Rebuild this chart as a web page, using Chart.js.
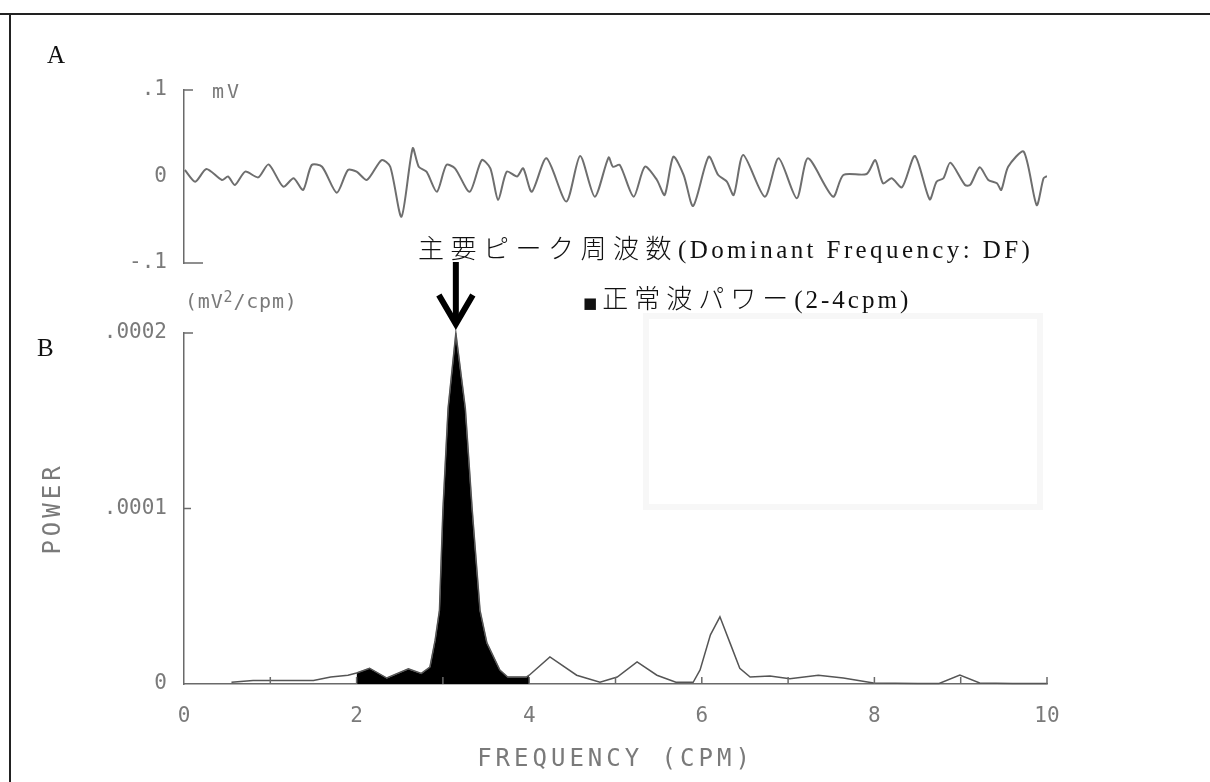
<!DOCTYPE html>
<html><head><meta charset="utf-8">
<script src="https://cdn.jsdelivr.net/npm/chart.js@4.4.1/dist/chart.umd.min.js"></script>
<style>
html,body{margin:0;padding:0;background:#fff;}
body{width:1210px;height:782px;position:relative;overflow:hidden;}
canvas{position:absolute;left:0;top:0;}
.t{position:absolute;white-space:nowrap;line-height:1;}
.serif{font-family:"Liberation Serif","Noto Sans CJK JP",serif;color:#111;}
.mono{font-family:"DejaVu Sans Mono",monospace;color:#7a7a7a;font-size:20px;}
.cjk{font-family:"Noto Sans CJK JP",sans-serif;font-size:26px;font-weight:300;}
#frameTop{position:absolute;left:0;top:13px;width:1210px;height:2px;background:#222;}
#frameLeft{position:absolute;left:9px;top:13px;width:2px;height:769px;background:#222;}
#ghostBox{position:absolute;left:643px;top:313px;width:400px;height:197px;box-sizing:border-box;border:6px solid #f7f7f7;}
</style></head><body>
<div id="frameTop"></div><div id="frameLeft"></div>
<div id="ghostBox"></div>
<canvas id="cA" width="1210" height="782"></canvas>
<canvas id="cB" width="1210" height="782"></canvas>
<div class="t serif" style="left:47px;top:42px;font-size:25px;">A</div>
<div class="t serif" style="left:37px;top:335px;font-size:25px;">B</div>
<div class="t mono" style="left:212px;top:81px;letter-spacing:3px;">mV</div>
<div class="t mono" style="left:185px;top:290px;letter-spacing:0.8px;">(mV<sup style="font-size:15px;vertical-align:6px;">2</sup>/cpm)</div>
<div class="t serif" style="left:418px;top:234px;font-size:25px;"><span class="cjk" style="letter-spacing:6.5px;">主要ピーク周波数</span><span style="letter-spacing:3.4px;">(Dominant Frequency: DF)</span></div>
<div class="t serif" style="left:583px;top:284px;font-size:25px;"><span style="font-family:'DejaVu Sans';font-size:15px;margin-right:5px;">■</span><span class="cjk" style="letter-spacing:6px;">正常波パワー</span><span style="letter-spacing:3px;">(2-4cpm)</span></div>
<script>
// ---- Panel A: EGG waveform ----
const waveTime = [0.01,0.13,0.26,0.44,0.51,0.59,0.71,0.86,0.98,1.15,1.27,1.38,1.48,1.60,1.77,1.90,2.00,2.12,2.29,2.39,2.52,2.65,2.72,2.81,2.93,3.04,3.14,3.31,3.45,3.55,3.64,3.74,3.86,3.93,4.03,4.20,4.43,4.59,4.76,4.92,4.97,5.05,5.21,5.34,5.48,5.57,5.67,5.79,5.90,6.08,6.19,6.29,6.37,6.48,6.73,6.89,7.10,7.23,7.52,7.64,7.91,8.01,8.10,8.20,8.32,8.47,8.64,8.72,8.80,8.88,9.05,9.11,9.22,9.32,9.42,9.47,9.55,9.73,9.88,9.96,10.0];
const waveMV = [0.0075,-0.006,0.0087,-0.004,0.0,-0.0098,0.0056,-0.001,0.014,-0.0118,-0.002,-0.0156,0.0133,0.0113,-0.0187,0.0075,0.0056,-0.004,0.019,0.0113,-0.0465,0.0326,0.0113,0.0056,-0.0176,0.0133,0.0095,-0.0176,0.019,0.0095,-0.0272,0.0056,0.0,0.0095,-0.0176,0.021,-0.029,0.0237,-0.0233,0.022,0.0113,0.0133,-0.0233,0.0113,-0.004,-0.0214,0.0229,0.0017,-0.0341,0.0229,0.0017,-0.006,-0.0214,0.0249,-0.0233,0.021,-0.0252,0.021,-0.0233,0.0017,0.0029,0.019,-0.0079,-0.002,-0.0125,0.0237,-0.0264,-0.006,-0.002,0.016,-0.0098,-0.0098,0.0106,-0.004,-0.0079,-0.0156,0.0113,0.0287,-0.033,-0.002,0.0006];
const ampTickValues = [-0.1, 0, 0.1];
const ampTickLabels = ['-.1', '0', '.1'];

// ---- Panel B: power spectrum ----
const freqCPM = [0.55,0.8,1.0,1.3,1.5,1.7,1.9,2.0,2.15,2.35,2.6,2.75,2.85,2.91,2.96,3.0,3.06,3.15,3.26,3.34,3.43,3.51,3.66,3.75,3.97,4.0,4.24,4.55,4.82,5.02,5.25,5.48,5.7,5.9,5.98,6.1,6.21,6.33,6.44,6.56,6.79,7.02,7.35,7.64,7.99,8.5,8.75,8.99,9.22,9.6,10.0];
const powerMV2 = [1e-6,2e-6,2e-6,2e-6,2e-6,4e-6,5e-6,6.3e-6,9e-6,3.4e-6,8.6e-6,6e-6,9.7e-6,2.5e-5,4.2e-5,9.9e-5,1.57e-4,2e-4,1.57e-4,9.9e-5,4.2e-5,2.34e-5,8e-6,4e-6,4e-6,5e-6,1.54e-5,5e-6,1e-6,4e-6,1.26e-5,5e-6,1e-6,1e-6,8e-6,2.8e-5,3.83e-5,2.3e-5,9e-6,4e-6,4.6e-6,3e-6,5e-6,3.4e-6,6e-7,3e-7,3e-7,5.1e-6,6e-7,3e-7,3e-7];
const normalBand = [2, 4];
const powerTickValues = [0, 0.0001, 0.0002];
const powerTickLabels = ['0', '.0001', '.0002'];
const freqTickValues = [0, 2, 4, 6, 8, 10];
const freqTickLabels = ['0', '2', '4', '6', '8', '10'];
const freqMinorTicks = [1, 2, 3, 4, 5, 6, 7, 8, 9, 10];

const AXIS_GRAY = '#6a6a6a';
const LABEL_GRAY = '#7a7a7a';
const tickFont = {family: 'DejaVu Sans Mono', size: 21};
const titleFont = {family: 'DejaVu Sans Mono', size: 24};

function labelFor(values, labels) {
  return v => { const i = values.findIndex(x => Math.abs(x - v) < 1e-9); return i >= 0 ? labels[i] : ''; };
}

// inward bracket ticks drawn through the chart's scales
const innerTicks = {
  id: 'innerTicks',
  afterDraw(chart, args, opts) {
    const ctx = chart.ctx;
    ctx.save();
    ctx.strokeStyle = opts.color || AXIS_GRAY;
    ctx.lineWidth = 1.5;
    const ys = chart.scales.y, xs = chart.scales.x;
    (opts.y || []).forEach(t => {
      const py = ys.getPixelForValue(t.value);
      ctx.beginPath(); ctx.moveTo(ys.right, py); ctx.lineTo(ys.right + t.len, py); ctx.stroke();
    });
    (opts.x || []).forEach(t => {
      const px = xs.getPixelForValue(t.value);
      const base = ys.getPixelForValue(ys.min);
      ctx.beginPath(); ctx.moveTo(px, base); ctx.lineTo(px, base - t.len); ctx.stroke();
    });
    ctx.restore();
  }
};

// spaced axis titles
const spacedTitles = {
  id: 'spacedTitles',
  beforeDraw(chart, args, opts) {
    Object.values(chart.scales).forEach(s => {
      if (s._spaced) return;
      const orig = s.drawTitle;
      s.drawTitle = function () {
        const ctx = this.ctx; ctx.save(); ctx.letterSpacing = (opts.spacing || 0) + 'px'; orig.call(this); ctx.restore();
      };
      s._spaced = true;
    });
  }
};

// arrow pointing at the dominant frequency peak
const peakArrow = {
  id: 'peakArrow',
  afterDatasetsDraw(chart) {
    let k = 0;
    powerMV2.forEach((p, i) => { if (p > powerMV2[k]) k = i; });
    const x = chart.scales.x.getPixelForValue(freqCPM[k]);
    const tip = chart.scales.y.getPixelForValue(powerMV2[k]) - 5;
    const ctx = chart.ctx;
    ctx.save();
    ctx.strokeStyle = '#000'; ctx.lineWidth = 6; ctx.lineJoin = 'miter'; ctx.lineCap = 'butt';
    ctx.beginPath(); ctx.moveTo(x, tip - 66); ctx.lineTo(x, tip - 8); ctx.stroke();
    ctx.beginPath(); ctx.moveTo(x - 17, tip - 33); ctx.lineTo(x, tip - 4); ctx.lineTo(x + 17, tip - 33); ctx.stroke();
    ctx.restore();
  }
};

const common = {
  responsive: false, animation: false, events: [],
};

new Chart(document.getElementById('cA'), {
  type: 'line',
  data: { datasets: [{
    data: waveTime.map((t, i) => ({x: t, y: waveMV[i]})),
    borderColor: '#6e6e6e', borderWidth: 2, pointRadius: 0, tension: 0.25, fill: false
  }]},
  options: Object.assign({}, common, {
    layout: { padding: { left: 39, top: 90, right: 163, bottom: 519 } },
    plugins: { legend: {display: false}, tooltip: {enabled: false},
      innerTicks: { y: [{value: 0.1, len: 9}, {value: -0.1, len: 19}] } },
    scales: {
      x: { type: 'linear', min: 0, max: 10, display: false },
      y: { min: -0.1, max: 0.1,
        afterFit: s => { s.width = 145; },
        afterBuildTicks: s => { s.ticks = ampTickValues.map(v => ({value: v})); },
        grid: { display: false, drawTicks: false },
        border: { display: true, color: AXIS_GRAY, width: 1.5 },
        ticks: { padding: 17, color: LABEL_GRAY, font: tickFont, callback: labelFor(ampTickValues, ampTickLabels) }
      }
    }
  }),
  plugins: [innerTicks]
});

const spectrum = freqCPM.map((f, i) => ({x: f, y: powerMV2[i]}));
const bandPts = spectrum.filter(p => p.x >= normalBand[0] && p.x <= normalBand[1]);

new Chart(document.getElementById('cB'), {
  type: 'line',
  data: { datasets: [
    { label: 'spectrum', data: spectrum, borderColor: '#555', borderWidth: 1.5, pointRadius: 0, tension: 0, fill: false, clip: 8 },
    { label: '正常波パワー(2-4cpm)', data: bandPts, borderColor: '#9a9a9a', borderWidth: 1, backgroundColor: '#000', pointRadius: 0, tension: 0, fill: 'origin', clip: 8 }
  ]},
  options: Object.assign({}, common, {
    layout: { padding: { left: 39, top: 333, right: 163, bottom: 8 } },
    plugins: { legend: {display: false}, tooltip: {enabled: false},
      spacedTitles: { spacing: 4 },
      innerTicks: { y: [{value: 0.0002, len: 9}, {value: 0.0001, len: 7}],
                    x: freqMinorTicks.map(v => ({value: v, len: 7})) } },
    scales: {
      x: { type: 'linear', min: 0, max: 10,
        afterFit: s => { s.height = 90; },
        afterBuildTicks: s => { s.ticks = freqTickValues.map(v => ({value: v})); },
        grid: { display: false, drawTicks: false },
        border: { display: true, color: AXIS_GRAY, width: 1.5 },
        ticks: { padding: 20, color: LABEL_GRAY, font: tickFont, maxRotation: 0, callback: labelFor(freqTickValues, freqTickLabels) },
        title: { display: true, text: 'FREQUENCY (CPM)', color: LABEL_GRAY, font: titleFont, padding: {top: 0, bottom: 0} }
      },
      y: { min: 0, max: 0.0002,
        afterFit: s => { s.width = 145; },
        afterBuildTicks: s => { s.ticks = powerTickValues.map(v => ({value: v})); },
        grid: { display: false, drawTicks: false },
        border: { display: true, color: AXIS_GRAY, width: 1.5 },
        ticks: { padding: 17, color: LABEL_GRAY, font: tickFont, callback: labelFor(powerTickValues, powerTickLabels) },
        title: { display: true, text: 'POWER', color: LABEL_GRAY, font: titleFont, padding: {top: 0, bottom: 0} }
      }
    }
  }),
  plugins: [innerTicks, spacedTitles, peakArrow]
});
</script>
</body></html>
